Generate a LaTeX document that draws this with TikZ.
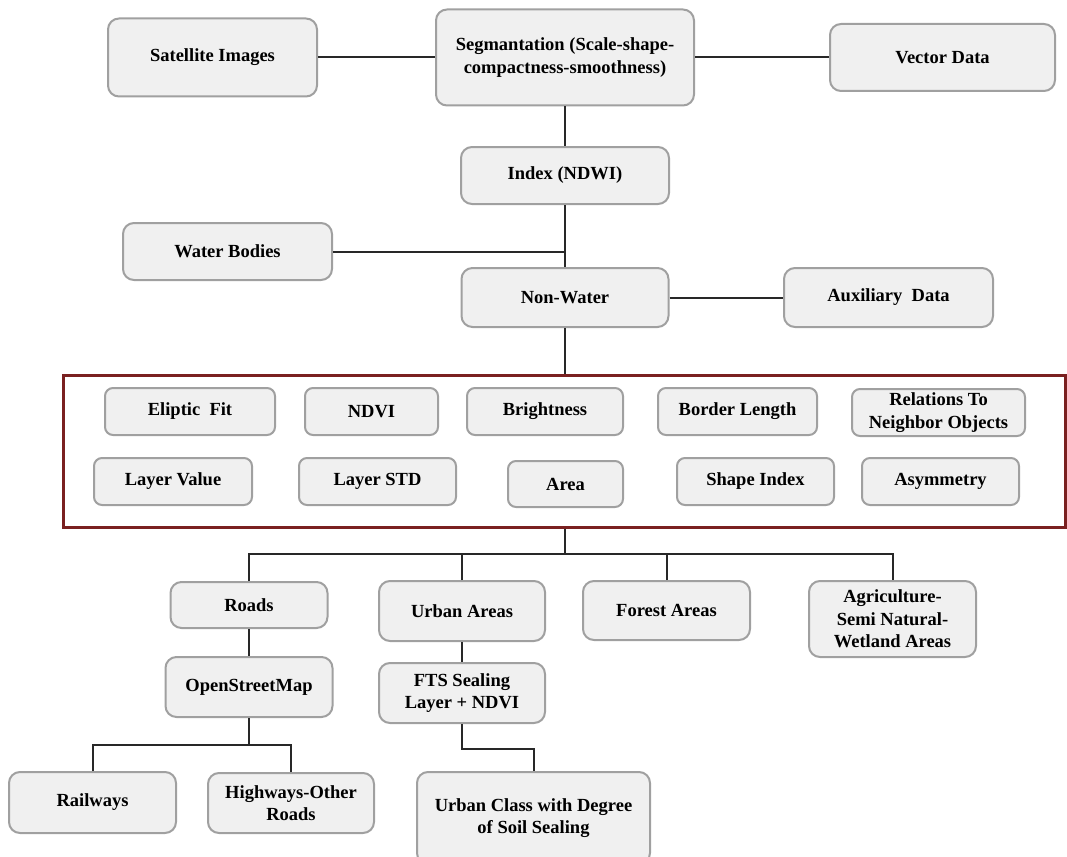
\documentclass[tikz,border=0pt]{standalone}
\usepackage{fontspec}
\setmainfont{Liberation Serif}
\usetikzlibrary{positioning,calc}
\definecolor{boxfill}{RGB}{240,240,240}
\definecolor{boxline}{RGB}{160,160,160}
\definecolor{wire}{RGB}{40,40,40}
\definecolor{maroon}{RGB}{122,32,32}
\tikzset{
  box/.style 2 args={draw=boxline,fill=boxfill,line width=2pt,rounded corners=11pt,
    minimum width=#1pt,minimum height=#2pt,inner sep=0pt,align=center,
    font=\fontsize{18.5}{22.5}\selectfont\bfseries},
  feature/.style 2 args={box={#1}{#2},rounded corners=8pt},
  wire/.style={draw=wire,line width=2pt},
  frame/.style={draw=maroon,line width=3pt,minimum width=1002pt,minimum height=152pt,inner sep=0pt},
}
\begin{document}
\begin{tikzpicture}[x=1pt,y=-1pt]
  \useasboundingbox (0,0) rectangle (1067,856);
  % input and water mask
  \node[box={209}{78}] (sat) at (212.5,57.5) {Satellite Images};
  \node[box={258}{96}] (seg) at (565,57.5) {Segmantation (Scale-shape-\\compactness-smoothness)};
  \node[box={225}{67}] (vec) at (942.5,57.5) {Vector Data};
  \node[box={208}{57}] (ndwi) at (565,175.5) {Index (NDWI)};
  \node[box={209}{57}] (water) at (227.5,251.5) {Water Bodies};
  \node[box={207}{59}] (nonw) at (565,297.5) {Non-Water};
  \node[box={209}{59}] (aux) at (888.5,297.5) {Auxiliary\ \ Data};
  % object features
  \node[frame] (feat) at (564,451) {};
  \node[feature={170}{47}] (ellip) at (190,411.5) {Eliptic\ \ Fit};
  \node[feature={133}{47}] (ndvi) at (371.5,411.5) {NDVI};
  \node[feature={156}{47}] (bright) at (545,411.5) {Brightness};
  \node[feature={159}{47}] (border) at (737.5,411.5) {Border Length};
  \node[feature={173}{47}] (rel) at (938.5,412.5) {Relations To\\Neighbor Objects};
  \node[feature={158}{47}] (lval) at (173,481.5) {Layer Value};
  \node[feature={157}{47}] (lstd) at (377.5,481.5) {Layer STD};
  \node[feature={115}{46}] (area) at (565.5,484) {Area};
  \node[feature={157}{47}] (shape) at (755.5,481.5) {Shape Index};
  \node[feature={157}{47}] (asym) at (940.5,481.5) {Asymmetry};
  % classes
  \node[box={157}{46}] (roads) at (249,605) {Roads};
  \node[box={166}{60}] (urban) at (462,611) {Urban Areas};
  \node[box={167}{59}] (forest) at (666.5,610.5) {Forest Areas};
  \node[box={167}{76}] (agri) at (892.5,619) {Agriculture-\\Semi Natural-\\Wetland Areas};
  \node[box={167}{60}] (osm) at (249,687) {OpenStreetMap};
  \node[box={166}{60}] (fts) at (462,693) {FTS Sealing\\Layer + NDVI};
  \node[box={167}{61}] (rail) at (92.5,802.5) {Railways};
  \node[box={166}{60}] (high) at (291,803) {Highways-Other\\Roads};
  \node[box={233}{92}] (ucls) at (533.5,818) {Urban Class with Degree\\of Soil Sealing};
  \coordinate (bus) at (565,554);
  \coordinate (rbus) at (249,745);

  \draw[wire] (sat) -- (seg);
  \draw[wire] (seg) -- (vec);
  \draw[wire] (seg) -- (ndwi);
  \draw[wire] (ndwi) -- (nonw);
  \draw[wire] (water) -- (water -| ndwi);
  \draw[wire] (nonw) -- (aux);
  \draw[wire] (nonw) -- (nonw.south |- feat.north);
  \draw[wire] (feat.south -| bus) -- (bus);
  \draw[wire] (roads.north) |- (bus) -| (agri.north);
  \draw[wire] (urban.north) -- (urban.north |- bus);
  \draw[wire] (forest.north) -- (forest.north |- bus);
  \draw[wire] (roads) -- (osm);
  \draw[wire] (osm) -- (rbus);
  \draw[wire] (rail.north) |- (rbus) -| (high.north);
  \draw[wire] (urban) -- (fts);
  \draw[wire] (fts.south) -- ++(0,25) -| (ucls.north);
\end{tikzpicture}
\end{document}
